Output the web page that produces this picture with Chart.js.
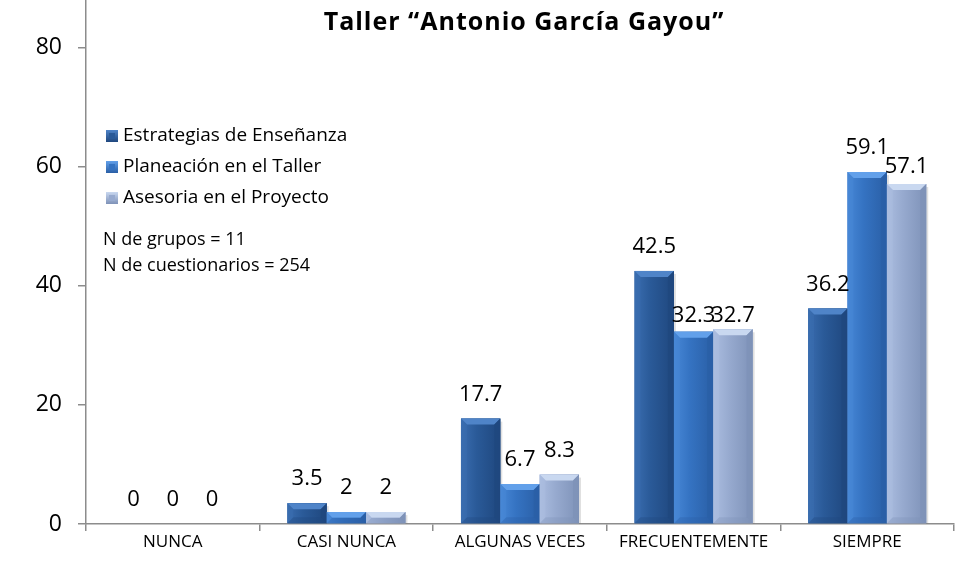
<!DOCTYPE html>
<html><head><meta charset="utf-8">
<script src="https://cdn.jsdelivr.net/npm/chart.js@4/dist/chart.umd.min.js"></script>
<style>html,body{margin:0;padding:0;background:#fff}#wrap{width:960px;height:563px}</style>
</head><body><div id="wrap"><canvas id="c" width="960" height="563"></canvas></div>
<script>
const categories = ["NUNCA","CASI NUNCA","ALGUNAS VECES","FRECUENTEMENTE","SIEMPRE"];
const seriesNames = ["Estrategias de Enseñanza","Planeación en el Taller","Asesoria en el Proyecto"];
const estrategias = [0,3.5,17.7,42.5,36.2];
const planeacion = [0,2,6.7,32.3,59.1];
const asesoria = [0,2,8.3,32.7,57.1];
const yTicks = [0,20,40,60,80];
const titleText = "Taller “Antonio García Gayou”";
const notes = ["N de grupos = 11","N de cuestionarios = 254"];

const FONT = "'Open Sans', Lato, sans-serif";
const palettes = [
  {face:"#2A5A98", light:"#3A6DB0", dark:"#1F477E", top:"#4F84C8"},
  {face:"#3573C2", light:"#4787D6", dark:"#2A5FA6", top:"#62A0EA"},
  {face:"#97AACF", light:"#ABBDE0", dark:"#7E92B8", top:"#C9D8F0"}
];
// label offsets above bar top (styling only), keyed "dataset-index"
const labelGap = {"1-3":16, "2-3":14, "2-4":17};

const bevelPlugin = {
  id:"bevel",
  afterDatasetsDraw(chart){
    const ctx = chart.ctx;
    chart.data.datasets.forEach((ds,di)=>{
      const meta = chart.getDatasetMeta(di);
      const p = palettes[di];
      meta.data.forEach(el=>{
        const w = el.width, x0 = el.x - w/2, x1 = el.x + w/2;
        const top = Math.min(el.y, el.base), bot = Math.max(el.y, el.base);
        const h = bot - top;
        if (h < 0.5) return;
        ctx.save();
        ctx.fillStyle = "rgba(0,0,0,0.12)";
        ctx.fillRect(x1, top+3, 2, h-3);
        const g = ctx.createLinearGradient(x0,0,x1,0);
        g.addColorStop(0,p.light); g.addColorStop(0.4,p.face); g.addColorStop(1,p.dark);
        ctx.fillStyle = g;
        ctx.fillRect(x0,top,w,h);
        const b = Math.min(6, h/2, w/2);
        ctx.fillStyle = p.top;
        ctx.beginPath();
        ctx.moveTo(x0,top); ctx.lineTo(x1,top); ctx.lineTo(x1-b,top+b); ctx.lineTo(x0+b,top+b); ctx.closePath(); ctx.fill();
        ctx.fillStyle = p.light; ctx.globalAlpha = 0.5;
        ctx.beginPath();
        ctx.moveTo(x0,top); ctx.lineTo(x0+b,top+b); ctx.lineTo(x0+b,bot-b); ctx.lineTo(x0,bot); ctx.closePath(); ctx.fill();
        ctx.fillStyle = p.dark; ctx.globalAlpha = 0.8;
        ctx.beginPath();
        ctx.moveTo(x1,top); ctx.lineTo(x1-b,top+b); ctx.lineTo(x1-b,bot-b); ctx.lineTo(x1,bot); ctx.closePath(); ctx.fill();
        ctx.globalAlpha = 0.35;
        ctx.beginPath();
        ctx.moveTo(x0,bot); ctx.lineTo(x0+b,bot-b); ctx.lineTo(x1-b,bot-b); ctx.lineTo(x1,bot); ctx.closePath(); ctx.fill();
        ctx.restore();
      });
    });
  }
};

const labelPlugin = {
  id:"labels",
  afterDraw(chart){
    const ctx = chart.ctx;
    ctx.save();
    ctx.fillStyle = "#000";
    ctx.textAlign = "center";
    ctx.textBaseline = "middle";
    ctx.font = "22px " + FONT;
    chart.data.datasets.forEach((ds,di)=>{
      const meta = chart.getDatasetMeta(di);
      meta.data.forEach((el,i)=>{
        const gap = labelGap[di+"-"+i] ?? 24;
        ctx.fillText(String(ds.data[i]), el.x, el.y - gap);
      });
    });
    ctx.font = "bold 25px " + FONT;
    if ('letterSpacing' in ctx) ctx.letterSpacing = "1px";
    ctx.fillText(titleText, 524, 23);
    if ('letterSpacing' in ctx) ctx.letterSpacing = "0px";
    ctx.textAlign = "left";
    ctx.font = "19px " + FONT;
    const rows = [136,167,198];
    chart.data.datasets.forEach((ds,di)=>{
      const p = palettes[di];
      const y = rows[di], x = 106, s = 12;
      const g = ctx.createLinearGradient(x,y-s/2,x,y+s/2);
      g.addColorStop(0,p.top); g.addColorStop(1,p.dark);
      ctx.fillStyle = g;
      ctx.fillRect(x,y-s/2,s,s);
      ctx.fillStyle = p.face;
      ctx.fillRect(x+3,y-s/2+3,s-6,s-6);
      ctx.fillStyle = "#000";
      ctx.fillText(ds.label, x+17, y);
    });
    ctx.font = "18px " + FONT;
    ctx.fillText(notes[0], 103, 240);
    ctx.fillText(notes[1], 103, 266);
    ctx.restore();
  }
};

const datasets = [estrategias, planeacion, asesoria].map((d,i)=>({
  label: seriesNames[i], data: d, backgroundColor: palettes[i].face, borderWidth:0
}));

new Chart(document.getElementById("c"),{
  type:"bar",
  data:{labels:categories, datasets},
  options:{
    responsive:false, animation:false,
    layout:{padding:{top:0,right:6,bottom:0,left:0}},
    datasets:{bar:{barPercentage:1, categoryPercentage:0.68}},
    plugins:{legend:{display:false}, title:{display:false}, tooltip:{enabled:false}},
    scales:{
      x:{
        grid:{display:true, drawOnChartArea:false, offset:true, color:"#8c8c8c", tickLength:7, lineWidth:1.5},
        border:{display:true, color:"#8c8c8c", width:1.5},
        ticks:{color:"#000", font:{family:FONT, size:17}, padding:1, maxRotation:0, autoSkip:false},
        afterFit(s){ s.height = 39; s.paddingLeft = 0; s.paddingRight = 0; }
      },
      y:{
        min:0, max:88,
        afterBuildTicks(s){ s.ticks = yTicks.map(v=>({value:v})); },
        grid:{display:true, drawOnChartArea:false, color:"#8c8c8c", tickLength:8, lineWidth:1.5},
        border:{display:true, color:"#8c8c8c", width:1.5},
        ticks:{color:"#000", font:{family:FONT, size:23}, padding:16},
        afterFit(s){ s.width = 86; s.paddingTop = 0; s.paddingBottom = 0; }
      }
    }
  },
  plugins:[bevelPlugin, labelPlugin]
});
</script></body></html>
